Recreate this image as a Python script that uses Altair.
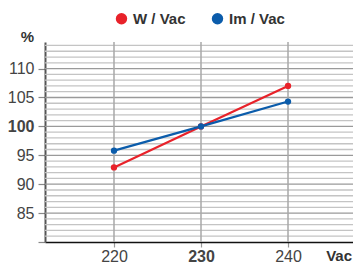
import altair as alt
import pandas as pd

volts = [220, 230, 240]
w_vac = [92.9, 100.0, 107.0]
im_vac = [95.8, 100.0, 104.3]
series = ["W / Vac", "Im / Vac"]
colors = ["#e8222a", "#0b5cab"]
y_labels = [85, 90, 95, 100, 105, 110]
minor_y = list(range(81, 115))
x_grid = [220, 230, 240]

rows = []
for v, a, b in zip(volts, w_vac, im_vac):
    rows.append({"Vac": v, "pct": a, "s": series[0]})
    rows.append({"Vac": v, "pct": b, "s": series[1]})
df = pd.DataFrame(rows)

XD = [212.07, 247.47]
YD = [80, 114.6]
xs = alt.Scale(domain=XD, nice=False, zero=False)
ys = alt.Scale(domain=YD, nice=False, zero=False)

x_axis = alt.Axis(
    values=x_grid, title=None, grid=False, domainColor="#111111", domainWidth=1.5,
    tickColor="#999999", tickSize=5, tickWidth=1.2,
    labelFont="Liberation Sans", labelFontSize=16, labelColor="#444444",
    labelPadding=1,
    labelFontWeight=alt.expr("datum.value == 230 ? 'bold' : 'normal'"))
y_axis = alt.Axis(
    values=[80] + y_labels, title=None, grid=False, domainColor="#555555", domainWidth=2,
    tickColor="#888888", tickSize=7, tickWidth=1.2,
    labelFont="Liberation Sans", labelFontSize=16, labelColor="#444444",
    labelPadding=4, labelExpr="datum.value == 80 ? '' : datum.label",
    labelFontWeight=alt.expr("datum.value == 100 ? 'bold' : 'normal'"))

minor = alt.Chart(pd.DataFrame({"y": [v for v in minor_y if v % 5 != 0]})).mark_rule(
    color="#c4c4c4", strokeWidth=1.3).encode(y=alt.Y("y:Q", scale=ys, axis=y_axis))
major = alt.Chart(pd.DataFrame({"y": [v for v in minor_y if v % 5 == 0]})).mark_rule(
    color="#9a9a9a", strokeWidth=1.3).encode(y=alt.Y("y:Q", scale=ys, axis=y_axis))
vgrid = alt.Chart(pd.DataFrame({"x": x_grid})).mark_rule(
    color="#a8a8a8", strokeWidth=1.5).encode(x=alt.X("x:Q", scale=xs, axis=x_axis))

color = alt.Color("s:N", scale=alt.Scale(domain=series, range=colors),
                  sort=series,
                  legend=alt.Legend(title=None, orient="none", direction="horizontal",
                                    legendX=69, legendY=-31,
                                    symbolType="circle", symbolSize=130,
                                    symbolStrokeWidth=0, symbolOpacity=1,
                                    labelFont="Liberation Sans", labelFontSize=15,
                                    labelFontWeight="bold", labelColor="#333333",
                                    labelOffset=4, columnPadding=24))

lines = alt.Chart(df).mark_line(strokeWidth=2.2).encode(
    x=alt.X("Vac:Q", scale=xs, axis=x_axis),
    y=alt.Y("pct:Q", scale=ys, axis=y_axis),
    color=color,
    detail="s:N",
)
points = alt.Chart(df).mark_point(filled=True, size=40, opacity=1).encode(
    x=alt.X("Vac:Q", scale=xs, axis=x_axis), y=alt.Y("pct:Q", scale=ys, axis=y_axis),
    color=alt.Color("s:N", scale=alt.Scale(domain=series, range=colors), legend=None),
)

pct_label = alt.Chart(pd.DataFrame({"t": ["%"]})).mark_text(
    font="Liberation Sans", fontSize=15, fontWeight="bold", color="#333333",
    align="right", baseline="bottom").encode(
    text="t:N", x=alt.value(-11), y=alt.value(3))
vac_label = alt.Chart(pd.DataFrame({"t": ["Vac"]})).mark_text(
    font="Liberation Sans", fontSize=15, fontWeight="bold", color="#333333",
    align="right", baseline="alphabetic").encode(
    text="t:N", x=alt.value(307), y=alt.value(219))

chart = alt.layer(minor, major, vgrid, lines, points, pct_label, vac_label).properties(
    width=308, height=200,
    autosize=alt.AutoSizeParams(type="none"),
    padding={"left": 37, "top": 34, "right": 0, "bottom": 21},
).configure_view(stroke=None).resolve_scale(color="shared")

chart.save("out.html", embed_options={"renderer": "svg", "actions": False})
